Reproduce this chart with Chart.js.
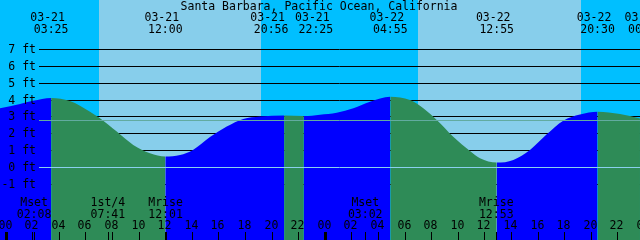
<!DOCTYPE html>
<html>
<head>
<meta charset="utf-8">
<script src="https://cdn.jsdelivr.net/npm/chart.js@4.4.1/dist/chart.umd.min.js"></script>
<style>
  html, body { margin: 0; padding: 0; background: #00bfff; }
  #wrap { width: 640px; height: 240px; }
</style>
</head>
<body>
<div id="wrap"><canvas id="tideChart" width="640" height="240"></canvas></div>
<script>
const stationName = "Santa Barbara, Pacific Ocean, California";

// hours after 03-21 00:00 and water level in feet
const tideHours = [-0.43, 1.08, 2.05, 3.417, 4.83, 6.34, 7.09, 8.35, 9.59, 10.85, 12.0,
  13.11, 14.08, 15.36, 16.62, 17.86, 19.12, 20.933, 22.417, 23.63, 24.89, 26.14, 27.39,
  28.917, 30.4, 31.4, 32.41, 33.65, 34.91, 35.66, 36.917, 38.17, 39.42, 40.68, 41.92,
  43.18, 44.5, 46.19, 47.69];
const tideHeights = [3.48, 3.74, 3.93, 4.10, 3.92, 3.28, 2.89, 2.10, 1.31, 0.81, 0.62,
  0.71, 1.01, 1.78, 2.40, 2.85, 3.00, 3.06, 3.02, 3.10, 3.22, 3.48, 3.87,
  4.17, 3.97, 3.48, 2.79, 1.80, 0.95, 0.52, 0.26, 0.42, 1.01, 1.94, 2.75,
  3.12, 3.28, 3.14, 2.88];

// high / low tide labels along the top
const eventHours = [3.417, 12.0, 20.933, 22.417, 28.917, 36.917, 44.5, 48.1];
const eventDates = ["03-21", "03-21", "03-21", "03-21", "03-22", "03-22", "03-22", "03-23"];
const eventTimes = ["03:25", "12:00", "20:56", "22:25", "04:55", "12:55", "20:30", "00:06"];

const sunriseHours = [7.017, 31.0];
const sunsetHours = [19.2, 43.25];

const moonHours = [2.133, 7.683, 12.017, 27.033, 36.883];
const moonNames = ["Mset", "1st/4", "Mrise", "Mset", "Mrise"];
const moonTimes = ["02:08", "07:41", "12:01", "03:02", "12:53"];

const hourTicks = [0, 2, 4, 6, 8, 10, 12, 14, 16, 18, 20, 22, 24, 26, 28, 30, 32, 34, 36, 38, 40, 42, 44, 46, 48];
const hourLabels = ["00", "02", "04", "06", "08", "10", "12", "14", "16", "18", "20", "22",
  "00", "02", "04", "06", "08", "10", "12", "14", "16", "18", "20", "22", "00"];

const footLevels = [-1, 0, 1, 2, 3, 4, 5, 6, 7];
const footLabels = ["-1 ft", "0 ft", "1 ft", "2 ft", "3 ft", "4 ft", "5 ft", "6 ft", "7 ft"];
const meanLevel = 2.79;

const FLOOD = "#0000ff";
const EBB = "#2e8b57";
const FONT = '11.5px "DejaVu Sans Mono", "Liberation Mono", monospace';

const tideDecor = {
  id: "tideDecor",
  beforeDatasetsDraw(chart) {
    const { ctx, chartArea, scales: { x, y } } = chart;
    ctx.save();
    // night and day bands
    ctx.fillStyle = "#00bfff";
    ctx.fillRect(chartArea.left, chartArea.top, chartArea.width, chartArea.height);
    ctx.fillStyle = "#87ceeb";
    sunriseHours.forEach((rise, i) => {
      const x0 = Math.round(x.getPixelForValue(rise));
      const x1 = Math.round(x.getPixelForValue(sunsetHours[i]));
      ctx.fillRect(x0, chartArea.top, x1 - x0, chartArea.height);
    });
    // level lines, the water covers them
    ctx.strokeStyle = "#000";
    ctx.lineWidth = 1;
    footLevels.forEach(level => {
      const py = Math.round(y.getPixelForValue(level)) + 0.5;
      ctx.beginPath();
      ctx.moveTo(39, py);
      ctx.lineTo(chartArea.right, py);
      ctx.stroke();
    });
    ctx.restore();
  },
  afterDatasetsDraw(chart) {
    const { ctx, chartArea, scales: { x, y } } = chart;
    ctx.save();
    const drawLevel = (value, color) => {
      const py = Math.round(y.getPixelForValue(value)) + 0.5;
      ctx.strokeStyle = color;
      ctx.beginPath();
      ctx.moveTo(39, py);
      ctx.lineTo(chartArea.right, py);
      ctx.stroke();
    };
    ctx.lineWidth = 1;
    drawLevel(0, "#8ad0ee");
    drawLevel(meanLevel, "#62aba0");

    ctx.fillStyle = "#000";
    ctx.font = FONT;
    ctx.textBaseline = "alphabetic";

    ctx.textAlign = "center";
    ctx.fillText(stationName, 319, 10);

    // tide event labels; the close pair near 21-22h is pushed apart
    const nudge = [0, 0, -13, 12, 0, 0, 0, 0];
    eventHours.forEach((h, i) => {
      const px = x.getPixelForValue(h) + nudge[i];
      ctx.fillText(eventDates[i], px - 3.5, 21);
      ctx.fillText(eventTimes[i], px, 33);
    });

    // moon events
    moonHours.forEach((h, i) => {
      const px = x.getPixelForValue(h);
      ctx.fillText(moonNames[i], px, 206);
      ctx.fillText(moonTimes[i], px, 218);
      ctx.fillRect(Math.round(px), 232, 1, 8);
    });

    // hour ticks along the bottom
    hourTicks.forEach((h, i) => {
      const px = Math.round(x.getPixelForValue(h));
      ctx.fillText(hourLabels[i], px - 0.5, 229);
      if (h % 24 === 0) {
        ctx.fillRect(px - 1, 232, 3, 8);
      } else {
        ctx.fillRect(px, 232, 1, 8);
      }
    });

    // level labels
    ctx.textAlign = "right";
    footLevels.forEach((level, i) => {
      const py = Math.round(y.getPixelForValue(level));
      ctx.fillText(footLabels[i], 36, py + 4);
    });
    ctx.restore();
  }
};

new Chart(document.getElementById("tideChart"), {
  type: "line",
  data: {
    datasets: [{
      data: tideHours.map((h, i) => ({ x: h, y: tideHeights[i] })),
      borderWidth: 0,
      pointRadius: 0,
      fill: "start",
      backgroundColor: EBB,
      cubicInterpolationMode: "monotone",
      segment: {
        backgroundColor: c => (c.p1.parsed.y > c.p0.parsed.y ? FLOOD : EBB)
      }
    }]
  },
  options: {
    responsive: false,
    animation: false,
    layout: { padding: 0 },
    plugins: {
      legend: { display: false },
      tooltip: { enabled: false }
    },
    scales: {
      x: { type: "linear", min: -0.4286, max: 47.692, display: false },
      y: { type: "linear", min: -4.331, max: 9.907, display: false }
    }
  },
  plugins: [tideDecor]
});
</script>
</body>
</html>
